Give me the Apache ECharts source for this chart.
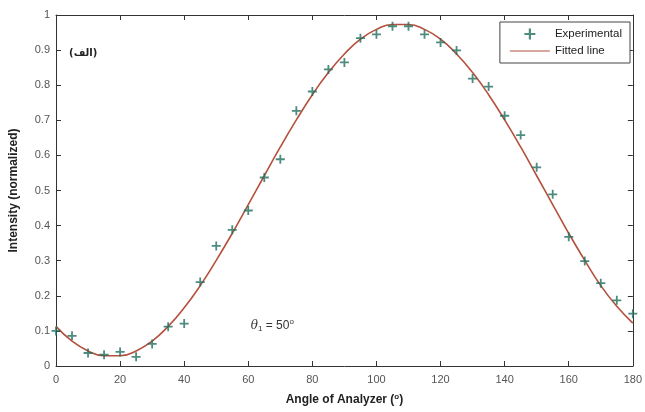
<!DOCTYPE html>
<html>
<head>
<meta charset="utf-8">
<script src="https://cdn.jsdelivr.net/npm/echarts@6/dist/echarts.min.js"></script>
<style>
  html, body { margin: 0; padding: 0; background: #fff; }
  #chart { width: 645px; height: 412px; }
</style>
</head>
<body>
<div id="chart"></div>
<script>
// Analyzer angle (degrees)
const angles = [0, 5, 10, 15, 20, 25, 30, 35, 40, 45, 50, 55, 60, 65, 70, 75, 80, 85, 90,
  95, 100, 105, 110, 115, 120, 125, 130, 135, 140, 145, 150, 155, 160, 165, 170, 175, 180];

// Measured normalized intensity
const experimental = [0.100, 0.086, 0.037, 0.032, 0.040, 0.026, 0.063, 0.112, 0.121, 0.239,
  0.342, 0.388, 0.443, 0.537, 0.589, 0.727, 0.782, 0.845, 0.865, 0.934, 0.945, 0.968, 0.968,
  0.945, 0.922, 0.899, 0.819, 0.796, 0.713, 0.658, 0.566, 0.489, 0.368, 0.299, 0.236, 0.187, 0.149];

// Fitted curve sampled at the same angles
const fitted = [0.113, 0.071, 0.043, 0.029, 0.029, 0.043, 0.071, 0.113, 0.166, 0.229,
  0.301, 0.378, 0.460, 0.542, 0.624, 0.701, 0.773, 0.836, 0.889, 0.931, 0.959, 0.973, 0.973,
  0.959, 0.931, 0.889, 0.836, 0.773, 0.701, 0.624, 0.542, 0.460, 0.378, 0.301, 0.229, 0.170, 0.122];

const xTicks = { min: 0, max: 180, interval: 20 };
const yTicks = { min: 0, max: 1, interval: 0.1 };

const markerColor = '#1f6e5e';
const lineColor = '#b4503c';
const plusPath = 'path://M4,0H6V4H10V6H6V10H4V6H0V4H4Z';
const font = 'Liberation Sans, Arial, sans-serif';

const chart = echarts.init(document.getElementById('chart'), null, { renderer: 'canvas' });

const labelStyle = { color: '#555', fontSize: 11, fontFamily: font };
const frameLine = { onZero: false, lineStyle: { color: '#333', width: 1 } };
const innerTick = { inside: true, length: 5, lineStyle: { color: '#333' } };

chart.setOption({
  backgroundColor: '#fff',
  animation: false,
  textStyle: { fontFamily: font },
  grid: { left: 55, right: 12, top: 15, bottom: 46 },
  legend: {
    orient: 'vertical',
    right: 15,
    top: 22,
    padding: [6, 8, 6, 10],
    itemGap: 5,
    itemWidth: 40,
    itemHeight: 11,
    backgroundColor: '#fff',
    borderColor: '#444',
    borderWidth: 1,
    textStyle: { fontSize: 11.5, color: '#222', fontFamily: font },
    data: [
      { name: 'Experimental', icon: plusPath },
      { name: 'Fitted line', icon: 'path://M0,4.4H40V5.6H0Z' }
    ]
  },
  xAxis: [
    {
      type: 'value', min: xTicks.min, max: xTicks.max, interval: xTicks.interval,
      name: 'Angle of Analyzer ({sup|o})',
      nameLocation: 'middle', nameGap: 27,
      nameTextStyle: {
        fontSize: 12, fontWeight: 'bold', color: '#222', fontFamily: font,
        rich: { sup: { fontSize: 8, fontWeight: 'bold', color: '#222', verticalAlign: 'top', padding: [0, 0, 6, 0] } }
      },
      axisLine: frameLine,
      axisTick: innerTick,
      axisLabel: Object.assign({ margin: 8 }, labelStyle),
      splitLine: { show: false }
    },
    {
      type: 'value', position: 'top', min: xTicks.min, max: xTicks.max, interval: xTicks.interval,
      axisLine: frameLine,
      axisTick: innerTick,
      axisLabel: { show: false },
      splitLine: { show: false }
    }
  ],
  yAxis: [
    {
      type: 'value', min: yTicks.min, max: yTicks.max, interval: yTicks.interval,
      name: 'Intensity (normalized)',
      nameLocation: 'middle', nameGap: 36, nameRotate: 90,
      nameTextStyle: { fontSize: 12, fontWeight: 'bold', color: '#222', fontFamily: font },
      axisLine: frameLine,
      axisTick: innerTick,
      axisLabel: Object.assign({ margin: 6 }, labelStyle),
      splitLine: { show: false }
    },
    {
      type: 'value', position: 'right', min: yTicks.min, max: yTicks.max, interval: yTicks.interval,
      axisLine: frameLine,
      axisTick: innerTick,
      axisLabel: { show: false },
      splitLine: { show: false }
    }
  ],
  series: [
    {
      name: 'Fitted line',
      type: 'line',
      smooth: true,
      showSymbol: false,
      color: lineColor,
      lineStyle: { width: 1.6, color: lineColor },
      data: angles.map((a, i) => [a, fitted[i]]),
      z: 2,
      markPoint: {
        symbol: 'circle', symbolSize: 0, silent: true,
        data: [
          {
            coord: [67.5, 0.115],
            label: {
              show: true, position: 'inside',
              formatter: '{th|θ}{sub|1}{t| = 50}{sup|o}',
              rich: {
                th: { fontSize: 12, fontStyle: 'italic', color: '#333', fontFamily: 'DejaVu Serif, serif' },
                sub: { fontSize: 8, color: '#333', verticalAlign: 'bottom', padding: [7, 0, 0, 0] },
                t: { fontSize: 12, color: '#333' },
                sup: { fontSize: 8, color: '#333', verticalAlign: 'top', padding: [0, 0, 7, 0] }
              }
            }
          },
          {
            coord: [8.5, 0.89],
            label: {
              show: true, position: 'inside',
              formatter: '(الف)',
              fontSize: 10, fontWeight: 'bold', color: '#222', fontFamily: 'DejaVu Sans, sans-serif'
            }
          }
        ]
      }
    },
    {
      name: 'Experimental',
      type: 'scatter',
      symbol: plusPath,
      symbolSize: 9,
      color: markerColor,
      itemStyle: { color: markerColor },
      data: angles.map((a, i) => [a, experimental[i]]),
      z: 3
    }
  ]
});
</script>
</body>
</html>
